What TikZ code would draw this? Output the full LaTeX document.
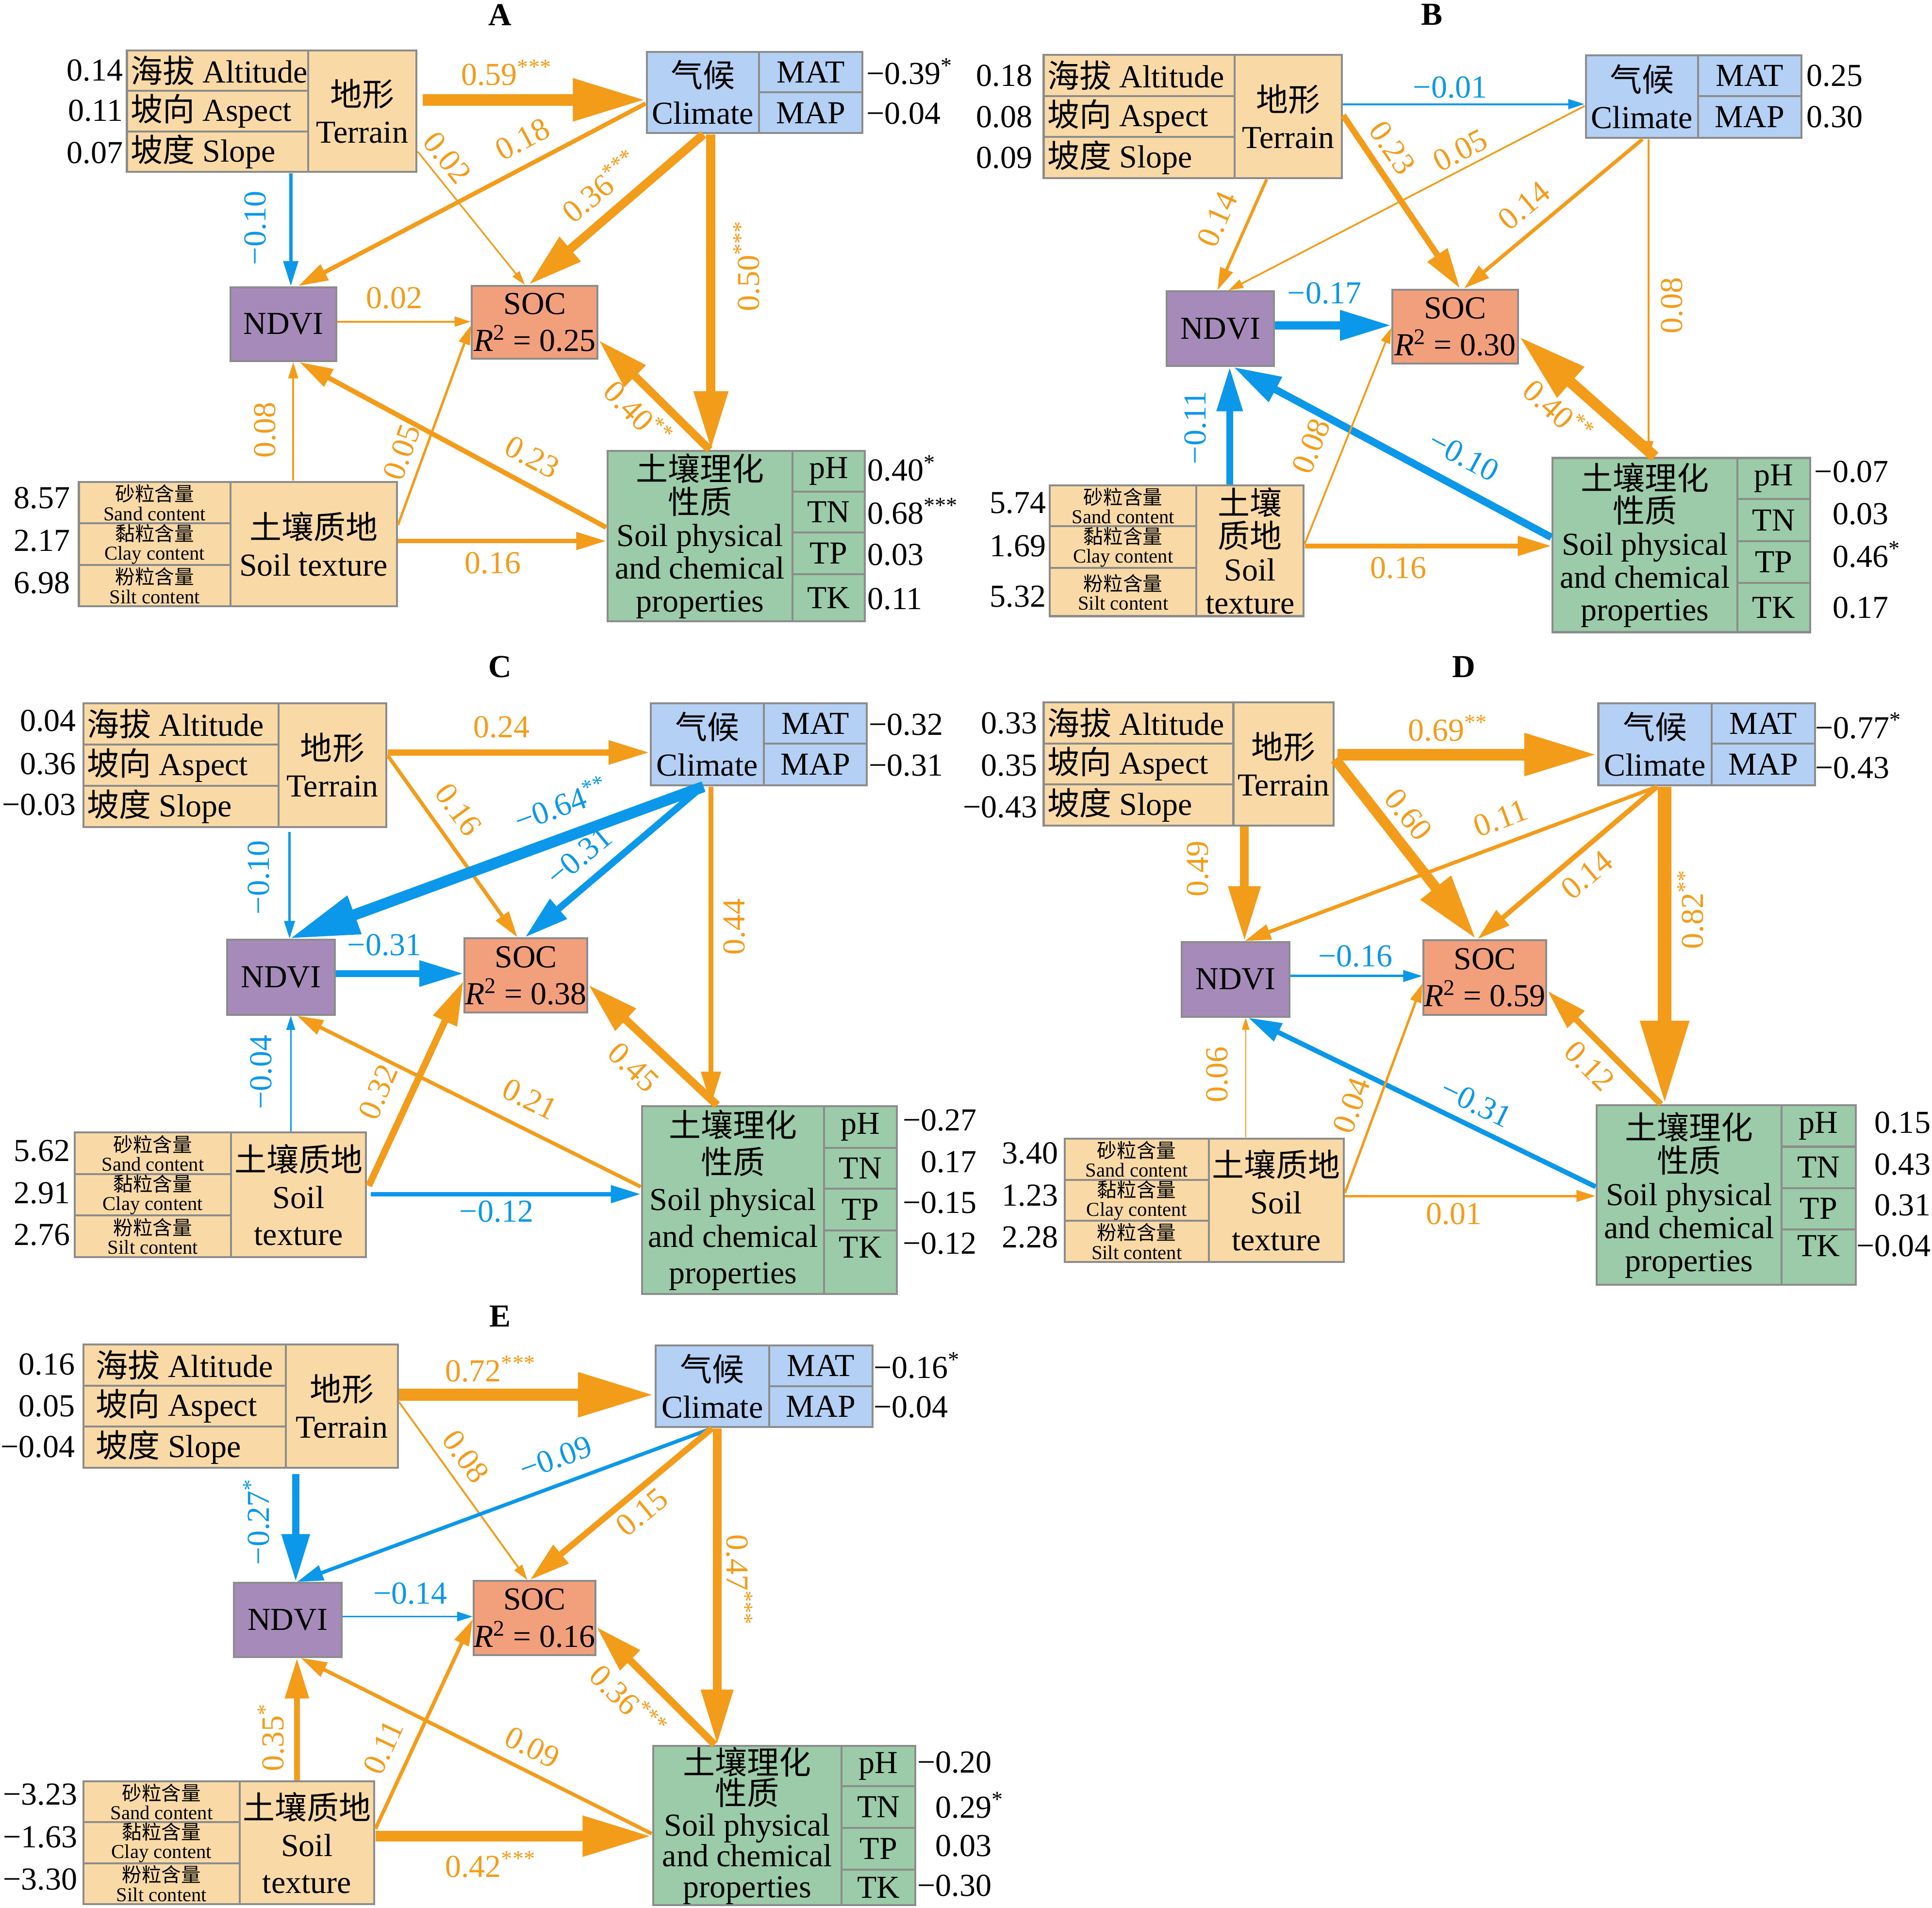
\documentclass[tikz,border=0pt]{standalone}
\usepackage{fontspec}
\setmainfont{Liberation Serif}
\newfontfamily\cjk{Noto Sans CJK SC}
\usetikzlibrary{arrows.meta,fit}
\newcommand\zh[1]{{\cjk #1}}
\newcommand\fsz[2]{\fontsize{#1pt}{#2pt}\selectfont}
\newcommand\st[1]{\textsuperscript{#1}}
\newcommand\rr[1]{\textit{R}\textsuperscript{2} = #1}
\newcommand\sand{\zh{砂粒含量}\\Sand content}
\newcommand\clay{\zh{黏粒含量}\\Clay content}
\newcommand\silt{\zh{粉粒含量}\\Silt content}
\newcommand\proptext{\zh{土壤理化}\\\zh{性质}\\Soil physical\\and chemical\\properties}
\definecolor{cTan}{HTML}{F9DAA6}
\definecolor{cClim}{HTML}{B4D0F4}
\definecolor{cProp}{HTML}{9BCBA8}
\definecolor{cNdvi}{HTML}{A68BBA}
\definecolor{cSoc}{HTML}{F2A07C}
\definecolor{cBord}{HTML}{8C8C8C}
\definecolor{cOr}{HTML}{F39C1A}
\definecolor{cBl}{HTML}{0B98EA}
\tikzset{
  cell/.style={draw=cBord,line width=1.6pt,inner sep=0pt,align=center,font=\fsz{26}{30}},
  smallcell/.style={font=\fsz{16}{15.5}},
  grp/.style={inner sep=0pt,draw=none,fill=none},
  ar/.style={line width=#1pt,-{Triangle[length=4pt 5.8,width=3pt 3.1]}},
  oa/.style={draw=cOr,ar=#1},
  ba/.style={draw=cBl,ar=#1},
  lo/.style={text=cOr,font=\fsz{26}{30},inner sep=0pt},
  lb/.style={text=cBl,font=\fsz{26}{30},inner sep=0pt},
  num/.style={font=\fsz{26}{30},inner sep=0pt},
  ttl/.style={font=\fsz{26}{30}\bfseries,inner sep=0pt}
}
\newcommand\cel[8][]{%
  \pgfmathsetmacro\cx{(#4+#6)/2}%
  \pgfmathsetmacro\cy{(#5+#7)/2}%
  \pgfmathsetmacro\cw{#6-#4}%
  \pgfmathsetmacro\ch{#7-#5}%
  \node[cell,fill=#3,minimum width=\cw pt,minimum height=\ch pt,#1] (#2) at (\cx,\cy) {#8};}
\newcommand\celL[7]{%
  \pgfmathsetmacro\cx{(#3+#5)/2}%
  \pgfmathsetmacro\cy{(#4+#6)/2}%
  \pgfmathsetmacro\cw{#5-#3}%
  \pgfmathsetmacro\ch{#6-#4}%
  \pgfmathsetmacro\tw{#5-#3-2*\lpad}%
  \node[cell,fill=#2,minimum width=\cw pt,minimum height=\ch pt] (#1) at (\cx,\cy) {\makebox[\tw pt][l]{#7}};}
\begin{document}
\begin{tikzpicture}[x=1pt,y=-1pt]
\fill[white] (0,0) rectangle (1568,1548);
\useasboundingbox (0,0) rectangle (1568,1548);

%%%%%%%%%%%%%%%% Panel A
\def\lpad{3}
\node[ttl] (tA) at (406,12) {A};
\celL{aT1}{cTan}{103}{41}{250}{73.8}{\zh{海拔} Altitude}
\celL{aT2}{cTan}{103}{73.8}{250}{106.6}{\zh{坡向} Aspect}
\celL{aT3}{cTan}{103}{106.6}{250}{139.5}{\zh{坡度} Slope}
\cel{aT4}{cTan}{250}{41}{338}{139.5}{\zh{地形}\\Terrain}
\node[grp,fit=(aT1)(aT2)(aT3)(aT4)] (terA) {};
\cel{aC1}{cClim}{525}{42}{616}{108}{\zh{气候}\\Climate}
\cel{aC2}{cClim}{616}{42}{700}{75}{MAT}
\cel{aC3}{cClim}{616}{75}{700}{108}{MAP}
\node[grp,fit=(aC1)(aC2)(aC3)] (cliA) {};
\cel{ndA}{cNdvi}{187}{233}{273}{293}{NDVI}
\cel{socA}{cSoc}{383}{232}{485}{291}{SOC\\\rr{0.25}}
\cel[smallcell]{aS1}{cTan}{64}{391}{187}{424.7}{\sand}
\cel[smallcell]{aS2}{cTan}{64}{424.7}{187}{458.3}{\clay}
\cel[smallcell]{aS3}{cTan}{64}{458.3}{187}{492}{\silt}
\cel{aS4}{cTan}{187}{391}{322}{492}{\zh{土壤质地}\\Soil texture}
\node[grp,fit=(aS1)(aS2)(aS3)(aS4)] (texA) {};
\cel[font=\fsz{26}{26.5}]{aP1}{cProp}{493}{366}{643}{504}{\proptext}
\cel{aP2}{cProp}{643}{366}{702}{399}{pH}
\cel{aP3}{cProp}{643}{399}{702}{432}{TN}
\cel{aP4}{cProp}{643}{432}{702}{466}{TP}
\cel{aP5}{cProp}{643}{466}{702}{504}{TK}
\node[grp,fit=(aP1)(aP2)(aP3)(aP4)(aP5)] (prpA) {};
\node[num,anchor=east] (aN1) at (100,57) {0.14};
\node[num,anchor=east] (aN2) at (100,90) {0.11};
\node[num,anchor=east] (aN3) at (100,124) {0.07};
\node[num,anchor=west] (aV1) at (703,58) {−0.39\st{*}};
\node[num,anchor=west] (aV2) at (703,92) {−0.04};
\node[num,anchor=east] (aN4) at (57,404) {8.57};
\node[num,anchor=east] (aN5) at (57,439) {2.17};
\node[num,anchor=east] (aN6) at (57,473) {6.98};
\node[num,anchor=west] (aV3) at (704,380) {0.40\st{*}};
\node[num,anchor=west] (aV4) at (704,415) {0.68\st{***}};
\node[num,anchor=west] (aV5) at (704,450) {0.03};
\node[num,anchor=west] (aV6) at (704,486) {0.11};
\draw[oa=9.5,shorten <=4pt] (terA.east |- 0,81) -- (cliA.west |- 0,81);
\draw[oa=3.5] (cliA.west |- 0,84) -- (242,0 |- ndA.north);
\draw[oa=1.3] (terA.east |- 0,123) -- (426,0 |- socA.north);
\draw[oa=7] (571,0 |- cliA.south) -- (429,0 |- socA.north);
\draw[oa=7.5] (577,0 |- cliA.south) -- (577,0 |- prpA.north);
\draw[ba=2.8] (236,0 |- terA.south) -- (236,0 |- ndA.north);
\draw[oa=1.6] (ndA.east |- 0,261) -- (socA.west |- 0,261);
\draw[oa=1.6] (238,0 |- texA.north) -- (238,0 |- ndA.south);
\draw[oa=2] (texA.east |- 0,426) -- (socA.west |- 0,264);
\draw[oa=4] (prpA.west |- 0,428) -- (243,0 |- ndA.south);
\draw[oa=3.5] (texA.east |- 0,439) -- (prpA.west |- 0,439);
\draw[oa=6.5] (576,0 |- prpA.north) -- (socA.east |- 0,276);
\node[lo] (aL1) at (411,59) {0.59\st{***}};
\node[lo,rotate=27.7] (aL2) at (424,113) {0.18};
\node[lo,rotate=-51.3] (aL3) at (363,128) {0.02};
\node[lo,rotate=39.5] (aL4) at (487,151) {0.36\st{***}};
\node[lo,rotate=90] (aL5) at (606,216) {0.50\st{***}};
\node[lb,rotate=90] (aL6) at (207,185) {−0.10};
\node[lo] (aL7) at (320,242) {0.02};
\node[lo,rotate=90] (aL8) at (215,349) {0.08};
\node[lo,rotate=70.4] (aL9) at (326,367) {0.05};
\node[lo,rotate=-27.9] (aL10) at (432,371) {0.23};
\node[lo] (aL11) at (400,457) {0.16};
\node[lo,rotate=-45.3] (aL12) at (518,335) {0.40\st{**}};

%%%%%%%%%%%%%%%% Panel B
\node[ttl] (tB) at (1162,12) {B};
\celL{bT1}{cTan}{847}{44.6}{1002}{77.8}{\zh{海拔} Altitude}
\celL{bT2}{cTan}{847}{77.8}{1002}{111}{\zh{坡向} Aspect}
\celL{bT3}{cTan}{847}{111}{1002}{144.5}{\zh{坡度} Slope}
\cel{bT4}{cTan}{1002}{44.6}{1089}{144.5}{\zh{地形}\\Terrain}
\node[grp,fit=(bT1)(bT2)(bT3)(bT4)] (terB) {};
\cel{bC1}{cClim}{1287}{45}{1378}{112}{\zh{气候}\\Climate}
\cel{bC2}{cClim}{1378}{45}{1462}{78}{MAT}
\cel{bC3}{cClim}{1378}{78}{1462}{112}{MAP}
\node[grp,fit=(bC1)(bC2)(bC3)] (cliB) {};
\cel{ndB}{cNdvi}{947}{236.5}{1034}{297}{NDVI}
\cel{socB}{cSoc}{1130}{235}{1232}{295}{SOC\\\rr{0.30}}
\cel[smallcell]{bS1}{cTan}{852}{394}{971}{427}{\sand}
\cel[smallcell]{bS2}{cTan}{852}{427}{971}{461}{\clay}
\cel[smallcell]{bS3}{cTan}{852}{461}{971}{500}{\silt}
\cel[font=\fsz{26}{26.7}]{bS4}{cTan}{971}{394}{1058}{500}{\zh{土壤}\\\zh{质地}\\Soil\\texture}
\node[grp,fit=(bS1)(bS2)(bS3)(bS4)] (texB) {};
\cel[font=\fsz{26}{26.5}]{bP1}{cProp}{1260}{371.6}{1410}{513}{\proptext}
\cel{bP2}{cProp}{1410}{371.6}{1469}{405}{pH}
\cel{bP3}{cProp}{1410}{405}{1469}{439}{TN}
\cel{bP4}{cProp}{1410}{439}{1469}{473}{TP}
\cel{bP5}{cProp}{1410}{473}{1469}{513}{TK}
\node[grp,fit=(bP1)(bP2)(bP3)(bP4)(bP5)] (prpB) {};
\node[num,anchor=east] (bN1) at (838,61.6) {0.18};
\node[num,anchor=east] (bN2) at (838,94.75) {0.08};
\node[num,anchor=east] (bN3) at (838,127.9) {0.09};
\node[num,anchor=west] (bV1) at (1466,61.5) {0.25};
\node[num,anchor=west] (bV2) at (1466,95) {0.30};
\node[num,anchor=east] (bN4) at (849,408) {5.74};
\node[num,anchor=east] (bN5) at (849,443) {1.69};
\node[num,anchor=east] (bN6) at (849,484) {5.32};
\node[num,anchor=east] (bV3) at (1533,383) {−0.07};
\node[num,anchor=east] (bV4) at (1533,417) {0.03};
\node[num,anchor=east] (bV5) at (1533,450) {0.46\rlap{\st{*}}};
\node[num,anchor=east] (bV6) at (1533,493) {0.17};
\draw[ba=1.6] (terB.east |- 0,84.5) -- (cliB.west |- 0,84.5);
\draw[oa=5] (terB.east |- 0,93.5) -- (1185,0 |- socB.north);
\draw[oa=1.4] (cliB.west |- 0,86) -- (997,0 |- ndB.north);
\draw[oa=2.5] (1028,0 |- terB.south) -- (988,0 |- ndB.north);
\draw[oa=3] (1333,0 |- cliB.south) -- (1188,0 |- socB.north);
\draw[oa=1.5] (1338,0 |- cliB.south) -- (1338,0 |- prpB.north);
\draw[ba=6.5] (ndB.east |- 0,264) -- (socB.west |- 0,264);
\draw[ba=5.5] (998,0 |- texB.north) -- (998,0 |- ndB.south);
\draw[ba=6] (prpB.west |- 0,436) -- (1001,0 |- ndB.south);
\draw[oa=1.5] (texB.east |- 0,441) -- (socB.west |- 0,266);
\draw[oa=4] (texB.east |- 0,443) -- (prpB.west |- 0,443);
\draw[oa=9] (1343,0 |- prpB.north) -- (socB.east |- 0,273);
\node[lb] (bL1) at (1177,71) {−0.01};
\node[lo,rotate=-55.8] (bL2) at (1130,120) {0.23};
\node[lo,rotate=27.3] (bL3) at (1185,122) {0.05};
\node[lo,rotate=66.3] (bL4) at (988,178) {0.14};
\node[lo,rotate=39.7] (bL5) at (1237,167) {0.14};
\node[lo,rotate=90] (bL6) at (1357,248) {0.08};
\node[lb] (bL7) at (1075,238) {−0.17};
\node[lb,rotate=90] (bL8) at (970,347) {−0.11};
\node[lb,rotate=-28] (bL9) at (1188,370) {−0.10};
\node[lo,rotate=68.3] (bL10) at (1064,362) {0.08};
\node[lo] (bL11) at (1135,461) {0.16};
\node[lo,rotate=-42.2] (bL12) at (1265,333) {0.40\st{**}};

%%%%%%%%%%%%%%%% Panel C
\node[ttl] (tC) at (406,541) {C};
\celL{cT1}{cTan}{67.6}{570.6}{226}{604.1}{\zh{海拔} Altitude}
\celL{cT2}{cTan}{67.6}{604.1}{226}{637.6}{\zh{坡向} Aspect}
\celL{cT3}{cTan}{67.6}{637.6}{226}{671}{\zh{坡度} Slope}
\cel{cT4}{cTan}{226}{570.6}{313.6}{671}{\zh{地形}\\Terrain}
\node[grp,fit=(cT1)(cT2)(cT3)(cT4)] (terC) {};
\cel{cC1}{cClim}{528}{570.6}{620}{637.3}{\zh{气候}\\Climate}
\cel{cC2}{cClim}{620}{570.6}{703.6}{603.5}{MAT}
\cel{cC3}{cClim}{620}{603.5}{703.6}{637.3}{MAP}
\node[grp,fit=(cC1)(cC2)(cC3)] (cliC) {};
\cel{ndC}{cNdvi}{184.5}{762.5}{271.6}{823.4}{NDVI}
\cel{socC}{cSoc}{377}{761.5}{476.6}{821.6}{SOC\\\rr{0.38}}
\cel[smallcell]{cS1}{cTan}{60.5}{919}{187.6}{952.7}{\sand}
\cel[smallcell]{cS2}{cTan}{60.5}{952.7}{187.6}{986.3}{\clay}
\cel[smallcell]{cS3}{cTan}{60.5}{986.3}{187.6}{1020}{\silt}
\cel{cS4}{cTan}{187.6}{919}{297}{1020}{\zh{土壤质地}\\Soil\\texture}
\node[grp,fit=(cS1)(cS2)(cS3)(cS4)] (texC) {};
\cel[font=\fsz{26}{29.75}]{cP1}{cProp}{521}{897.8}{668.8}{1050}{\proptext}
\cel{cP2}{cProp}{668.8}{897.8}{727.7}{931.5}{pH}
\cel{cP3}{cProp}{668.8}{931.5}{727.7}{964.5}{TN}
\cel{cP4}{cProp}{668.8}{964.5}{727.7}{998.5}{TP}
\cel{cP5}{cProp}{668.8}{998.5}{727.7}{1050}{}
\node[num] (tkC) at (698.2,1012) {TK};
\node[grp,fit=(cP1)(cP2)(cP3)(cP4)(cP5)] (prpC) {};
\node[num,anchor=east] (cN1) at (62,585) {0.04};
\node[num,anchor=east] (cN2) at (62,620) {0.36};
\node[num,anchor=east] (cN3) at (62,653) {−0.03};
\node[num,anchor=west] (cV1) at (705,588) {−0.32};
\node[num,anchor=west] (cV2) at (705,621) {−0.31};
\node[num,anchor=east] (cN4) at (57,934) {5.62};
\node[num,anchor=east] (cN5) at (57,968) {2.91};
\node[num,anchor=east] (cN6) at (57,1002) {2.76};
\node[num,anchor=east] (cV3) at (793,909) {−0.27};
\node[num,anchor=east] (cV4) at (793,943) {0.17};
\node[num,anchor=east] (cV5) at (793,976) {−0.15};
\node[num,anchor=east] (cV6) at (793,1009) {−0.12};
\draw[oa=5] (terC.east |- 0,610.6) -- (cliC.west |- 0,610.6);
\draw[oa=3] (terC.east |- 0,613) -- (420,0 |- socC.north);
\draw[ba=9] (571,0 |- cliC.south) -- (235,0 |- ndC.north);
\draw[ba=5.5] (570,0 |- cliC.south) -- (426,0 |- socC.north);
\draw[oa=4] (577,0 |- cliC.south) -- (577,0 |- prpC.north);
\draw[ba=1.8,shorten <=3pt] (235,0 |- terC.south) -- (235,0 |- ndC.north);
\draw[ba=5.5] (ndC.east |- 0,790) -- (socC.west |- 0,790);
\draw[ba=1.3] (236,0 |- texC.north) -- (236,0 |- ndC.south);
\draw[oa=3] (prpC.west |- 0,963) -- (241,0 |- ndC.south);
\draw[oa=5.5,shorten <=3pt] (texC.east |- 0,965) -- (socC.west |- 0,796);
\draw[ba=3.5,shorten <=3pt] (texC.east |- 0,969) -- (prpC.west |- 0,969);
\draw[oa=6.5] (582,0 |- prpC.north) -- (socC.east |- 0,799);
\node[lo] (cL1) at (407,590) {0.24};
\node[lo,rotate=-53.8] (cL2) at (372,657) {0.16};
\node[lb,rotate=20.1] (cL3) at (455,652) {−0.64\st{**}};
\node[lb,rotate=39.7] (cL4) at (470,695) {−0.31};
\node[lo,rotate=90] (cL5) at (596,752) {0.44};
\node[lb,rotate=90] (cL6) at (210,712) {−0.10};
\node[lb] (cL7) at (312,767) {−0.31};
\node[lb,rotate=90] (cL8) at (212,870) {−0.04};
\node[lo,rotate=-26.1] (cL9) at (430,892) {0.21};
\node[lo,rotate=66.7] (cL10) at (307,886) {0.32};
\node[lb] (cL11) at (403,983) {−0.12};
\node[lo,rotate=-43.6] (cL12) at (514,866) {0.45};

%%%%%%%%%%%%%%%% Panel D
\node[ttl] (tD) at (1188,541) {D};
\celL{dT1}{cTan}{847}{570}{1001}{603.3}{\zh{海拔} Altitude}
\celL{dT2}{cTan}{847}{603.3}{1001}{636.6}{\zh{坡向} Aspect}
\celL{dT3}{cTan}{847}{636.6}{1001}{669.8}{\zh{坡度} Slope}
\cel{dT4}{cTan}{1001}{570}{1082.5}{669.8}{\zh{地形}\\Terrain}
\node[grp,fit=(dT1)(dT2)(dT3)(dT4)] (terD) {};
\cel{dC1}{cClim}{1297.2}{570.6}{1389}{637.3}{\zh{气候}\\Climate}
\cel{dC2}{cClim}{1389}{570.6}{1473}{603.5}{MAT}
\cel{dC3}{cClim}{1389}{603.5}{1473}{637.3}{MAP}
\node[grp,fit=(dC1)(dC2)(dC3)] (cliD) {};
\cel{ndD}{cNdvi}{959}{764.5}{1046.6}{825}{NDVI}
\cel{socD}{cSoc}{1155.2}{763}{1255}{823.4}{SOC\\\rr{0.59}}
\cel[smallcell]{dS1}{cTan}{864}{924}{981}{957.3}{\sand}
\cel[smallcell]{dS2}{cTan}{864}{957.3}{981}{990.7}{\clay}
\cel[smallcell]{dS3}{cTan}{864}{990.7}{981}{1024}{\silt}
\cel{dS4}{cTan}{981}{924}{1090.5}{1024}{\zh{土壤质地}\\Soil\\texture}
\node[grp,fit=(dS1)(dS2)(dS3)(dS4)] (texD) {};
\cel[font=\fsz{26}{26.75}]{dP1}{cProp}{1296}{897}{1445.8}{1042.6}{\proptext}
\cel{dP2}{cProp}{1445.8}{897}{1506}{930.5}{pH}
\cel{dP3}{cProp}{1445.8}{930.5}{1506}{964}{TN}
\cel{dP4}{cProp}{1445.8}{964}{1506}{997.5}{TP}
\cel{dP5}{cProp}{1445.8}{997.5}{1506}{1042.6}{}
\node[num] (tkD) at (1475.9,1011) {TK};
\node[grp,fit=(dP1)(dP2)(dP3)(dP4)(dP5)] (prpD) {};
\node[num,anchor=east] (dN1) at (842,587) {0.33};
\node[num,anchor=east] (dN2) at (842,621) {0.35};
\node[num,anchor=east] (dN3) at (842,655) {−0.43};
\node[num,anchor=west] (dV1) at (1473,589) {−0.77\st{*}};
\node[num,anchor=west] (dV2) at (1473,623) {−0.43};
\node[num,anchor=east] (dN4) at (859,936) {3.40};
\node[num,anchor=east] (dN5) at (859,970) {1.23};
\node[num,anchor=east] (dN6) at (859,1004) {2.28};
\node[num,anchor=east] (dV3) at (1567,911) {0.15};
\node[num,anchor=east] (dV4) at (1567,945) {0.43};
\node[num,anchor=east] (dV5) at (1567,978) {0.31};
\node[num,anchor=east] (dV6) at (1567,1011) {−0.04};
\draw[oa=9.5,shorten <=2pt] (terD.east |- 0,612.3) -- (cliD.west |- 0,612.3);
\draw[oa=8.5] (terD.east |- 0,616) -- (1198,0 |- socD.north);
\draw[oa=3] (1345,0 |- cliD.south) -- (1010,0 |- ndD.north);
\draw[oa=4] (1345,0 |- cliD.south) -- (1199,0 |- socD.north);
\draw[oa=11] (1351,0 |- cliD.south) -- (1351,0 |- prpD.north);
\draw[oa=7] (1010,0 |- terD.south) -- (1010,0 |- ndD.north);
\draw[ba=2] (ndD.east |- 0,792) -- (socD.west |- 0,792);
\draw[oa=1] (1011,0 |- texD.north) -- (1011,0 |- ndD.south);
\draw[ba=4] (prpD.west |- 0,963) -- (1013,0 |- ndD.south);
\draw[oa=2] (texD.east |- 0,968) -- (socD.west |- 0,798);
\draw[oa=2] (texD.east |- 0,970.5) -- (prpD.west |- 0,970.5);
\draw[oa=5] (1348,0 |- prpD.north) -- (socD.east |- 0,804);
\node[lo] (dL1) at (1175,591) {0.69\st{**}};
\node[lo,rotate=-51.5] (dL2) at (1143,661) {0.60};
\node[lo,rotate=20.2] (dL3) at (1218,664) {0.11};
\node[lo,rotate=39.7] (dL4) at (1288,710) {0.14};
\node[lo,rotate=90] (dL5) at (1372,738) {0.82\st{**}};
\node[lo,rotate=90] (dL6) at (972,705) {0.49};
\node[lb] (dL7) at (1100,776) {−0.16};
\node[lo,rotate=90] (dL8) at (988,872) {0.06};
\node[lb,rotate=-25.9] (dL9) at (1198,895) {−0.31};
\node[lo,rotate=70.3] (dL10) at (1097,897) {0.04};
\node[lo] (dL11) at (1180,985) {0.01};
\node[lo,rotate=-45.1] (dL12) at (1290,865) {0.12};

%%%%%%%%%%%%%%%% Panel E
\def\lpad{10}
\node[ttl] (tE) at (406,1068) {E};
\celL{eT1}{cTan}{67.8}{1091}{232}{1124.3}{\zh{海拔} Altitude}
\celL{eT2}{cTan}{67.8}{1124.3}{232}{1157.7}{\zh{坡向} Aspect}
\celL{eT3}{cTan}{67.8}{1157.7}{232}{1191}{\zh{坡度} Slope}
\cel{eT4}{cTan}{232}{1091}{322.8}{1191}{\zh{地形}\\Terrain}
\node[grp,fit=(eT1)(eT2)(eT3)(eT4)] (terE) {};
\cel{eC1}{cClim}{532}{1091.7}{624.3}{1158}{\zh{气候}\\Climate}
\cel{eC2}{cClim}{624.3}{1091.7}{708}{1124.7}{MAT}
\cel{eC3}{cClim}{624.3}{1124.7}{708}{1158}{MAP}
\node[grp,fit=(eC1)(eC2)(eC3)] (cliE) {};
\cel{ndE}{cNdvi}{189.7}{1284.5}{277.2}{1344.5}{NDVI}
\cel{socE}{cSoc}{385.3}{1283}{482.3}{1343}{SOC\\\rr{0.16}}
\cel[smallcell]{eS1}{cTan}{67.8}{1445.6}{194.5}{1478.7}{\sand}
\cel[smallcell]{eS2}{cTan}{67.8}{1478.7}{194.5}{1511.9}{\clay}
\cel[smallcell]{eS3}{cTan}{67.8}{1511.9}{194.5}{1545}{\silt}
\cel{eS4}{cTan}{194.5}{1445.6}{303.7}{1545}{\zh{土壤质地}\\Soil\\texture}
\node[grp,fit=(eS1)(eS2)(eS3)(eS4)] (texE) {};
\cel[font=\fsz{26}{25}]{eP1}{cProp}{530}{1416.7}{683}{1546}{\proptext}
\cel{eP2}{cProp}{683}{1416.7}{743}{1449.6}{pH}
\cel{eP3}{cProp}{683}{1449.6}{743}{1483.4}{TN}
\cel{eP4}{cProp}{683}{1483.4}{743}{1517}{TP}
\cel{eP5}{cProp}{683}{1517}{743}{1546}{TK}
\node[grp,fit=(eP1)(eP2)(eP3)(eP4)(eP5)] (prpE) {};
\node[num,anchor=east] (eN1) at (61,1107) {0.16};
\node[num,anchor=east] (eN2) at (61,1141) {0.05};
\node[num,anchor=east] (eN3) at (61,1174) {−0.04};
\node[num,anchor=west] (eV1) at (709,1108) {−0.16\st{*}};
\node[num,anchor=west] (eV2) at (709,1142) {−0.04};
\node[num,anchor=east] (eN4) at (63,1456) {−3.23};
\node[num,anchor=east] (eN5) at (63,1491) {−1.63};
\node[num,anchor=east] (eN6) at (63,1525) {−3.30};
\node[num,anchor=east] (eV3) at (805,1430) {−0.20};
\node[num,anchor=east] (eV4) at (805,1465) {0.29\rlap{\st{*}}};
\node[num,anchor=east] (eV5) at (805,1498) {0.03};
\node[num,anchor=east] (eV6) at (805,1530) {−0.30};
\draw[oa=10] (terE.east |- 0,1131.8) -- (cliE.west |- 0,1131.8);
\draw[oa=1.5] (terE.east |- 0,1137.6) -- (428,0 |- socE.north);
\draw[ba=3] (578,0 |- cliE.south) -- (241,0 |- ndE.north);
\draw[oa=5] (578,0 |- cliE.south) -- (430,0 |- socE.north);
\draw[oa=7] (582,0 |- cliE.south) -- (582,0 |- prpE.north);
\draw[ba=6,shorten <=4pt] (240,0 |- terE.south) -- (240,0 |- ndE.north);
\draw[ba=1.5] (ndE.east |- 0,1311.8) -- (socE.west |- 0,1311.8);
\draw[oa=5] (241,0 |- texE.north) -- (241,0 |- ndE.south);
\draw[oa=3] (prpE.west |- 0,1488) -- (244,0 |- ndE.south);
\draw[oa=3] (texE.east |- 0,1484) -- (socE.west |- 0,1314);
\draw[oa=9] (texE.east |- 0,1490) -- (prpE.west |- 0,1490);
\draw[oa=6] (580,0 |- prpE.north) -- (socE.east |- 0,1320);
\node[lo] (eL1) at (398,1111) {0.72\st{***}};
\node[lo,rotate=-54.3] (eL2) at (378,1182) {0.08};
\node[lb,rotate=20.1] (eL3) at (451,1183) {−0.09};
\node[lo,rotate=39.3] (eL4) at (521,1227) {0.15};
\node[lo,rotate=-90] (eL5) at (600,1282) {0.47\st{***}};
\node[lb,rotate=90] (eL6) at (208,1235) {−0.27\st{*}};
\node[lb] (eL7) at (333,1293) {−0.14};
\node[lo,rotate=90] (eL8) at (220,1410) {0.35\st{*}};
\node[lo,rotate=-26.4] (eL9) at (432,1418) {0.09};
\node[lo,rotate=65] (eL10) at (311,1418) {0.11};
\node[lo] (eL11) at (398,1513) {0.42\st{***}};
\node[lo,rotate=-44.7] (eL12) at (510,1380) {0.36\st{***}};
\end{tikzpicture}
\end{document}
